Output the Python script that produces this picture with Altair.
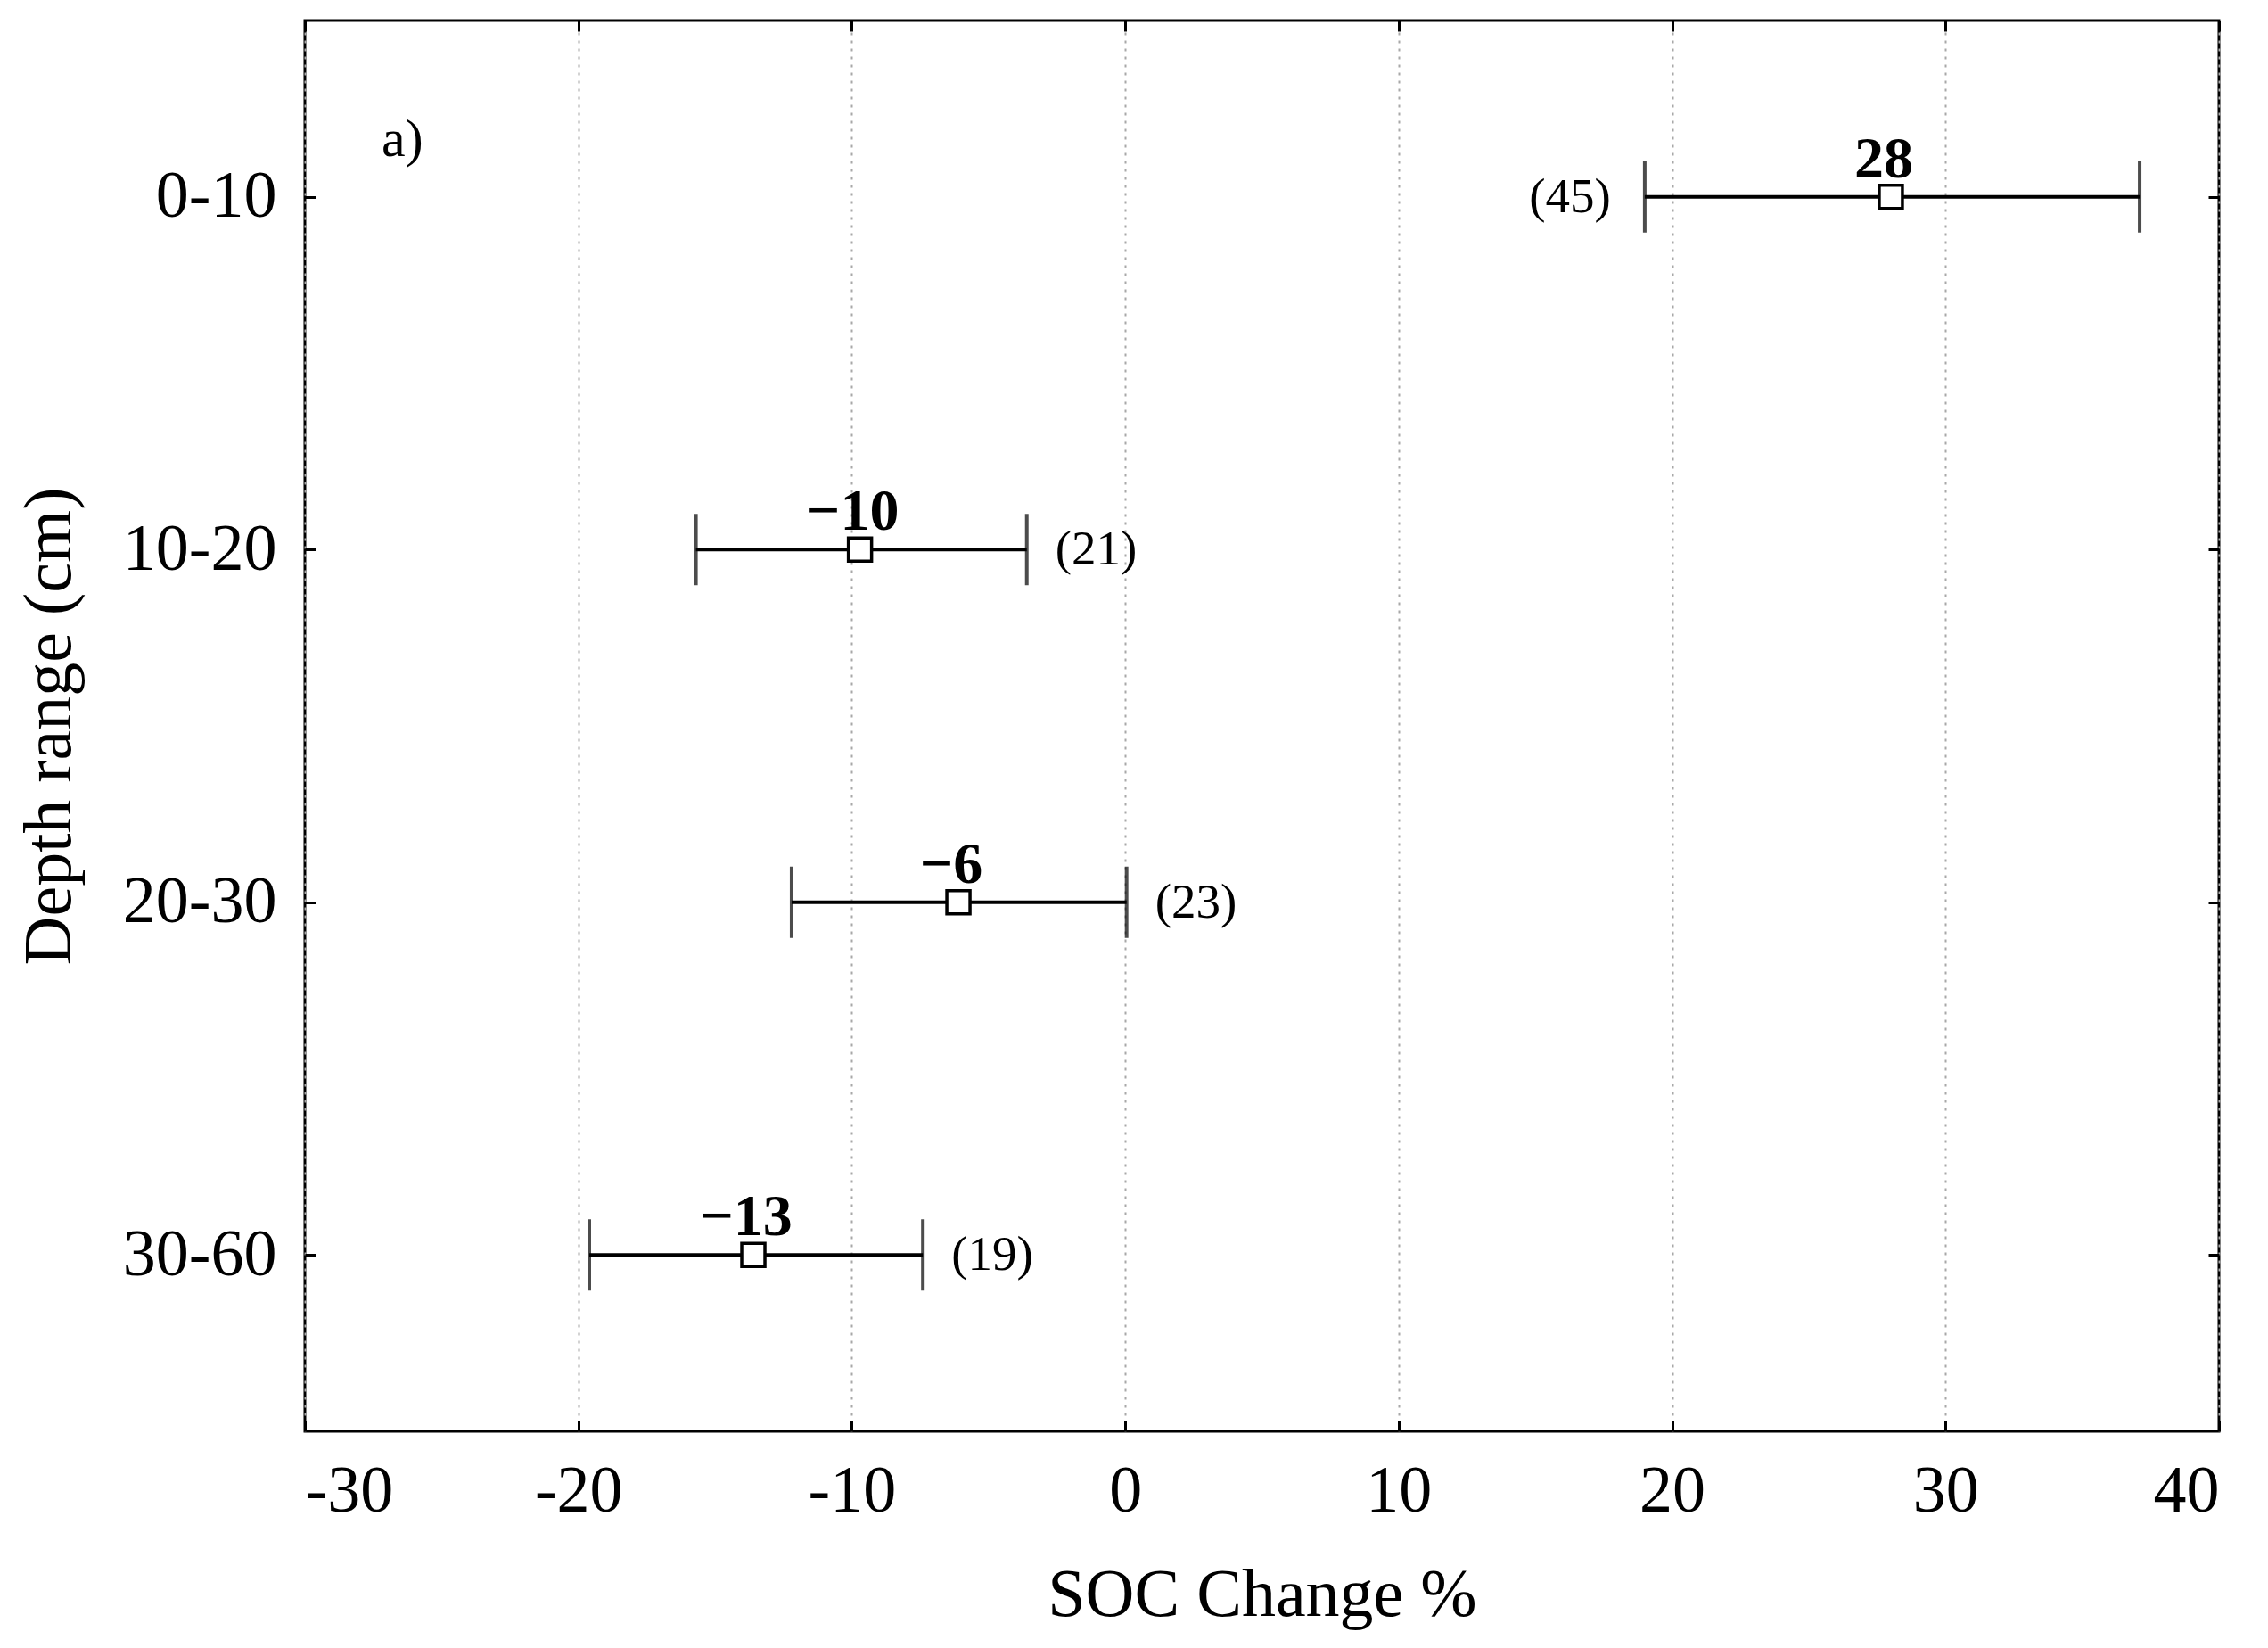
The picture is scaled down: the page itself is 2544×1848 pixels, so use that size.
import altair as alt
import pandas as pd

# ---- data ----
depth = ["0-10", "10-20", "20-30", "30-60"]
mean = [28.0, -9.7, -6.1, -13.6]
lo = [19.0, -15.7, -12.2, -19.6]
hi = [37.1, -3.6, 0.05, -7.4]
mean_label = ["28", "\u221210", "\u22126", "\u221213"]
n_label = ["(45)", "(21)", "(23)", "(19)"]
n_side = ["left", "right", "right", "right"]
x_ticks = [-30, -20, -10, 0, 10, 20, 30, 40]

df = pd.DataFrame(dict(depth=depth, mean=mean, lo=lo, hi=hi,
                       mean_label=mean_label, n_label=n_label, n_side=n_side))

FONT = "Liberation Serif"
W, H = 2147, 1582
T = 12

xscale = alt.Scale(domain=[-30, 40], nice=False, zero=False)
yscale = alt.Scale(type="point", domain=depth, padding=0.5)

x_bottom = alt.Axis(orient="bottom", values=x_ticks, labelExpr="'' + datum.value",
                    title="SOC Change %", offset=-T, tickSize=T, tickWidth=3,
                    tickColor="black", domain=False, labelPadding=31,
                    labelFont=FONT, labelFontSize=74, labelColor="black",
                    titleFont=FONT, titleFontSize=76, titleFontWeight="normal",
                    titleColor="black", titlePadding=42,
                    grid=True, gridColor="#a8a8a8", gridDash=[3, 6], gridWidth=2)
y_left = alt.Axis(orient="left", title="Depth range (cm)", offset=-T, tickSize=T,
                  tickWidth=3, tickColor="black", domain=False, labelPadding=32,
                  labelFont=FONT, labelFontSize=74, labelColor="black",
                  titleFont=FONT, titleFontSize=76, titleFontWeight="normal",
                  titleColor="black", titlePadding=60, grid=False)
x_top = alt.Axis(orient="top", values=x_ticks, offset=-T, tickSize=T, tickWidth=3,
                 tickColor="black", domain=False, labels=False, title=None, grid=False)
y_right = alt.Axis(orient="right", offset=-T, tickSize=T, tickWidth=3,
                   tickColor="black", domain=False, labels=False, title=None, grid=False)

base = alt.Chart(df)

rules = base.mark_rule(color="black", strokeWidth=4).encode(
    x=alt.X("lo:Q", scale=xscale, axis=x_bottom),
    x2="hi:Q",
    y=alt.Y("depth:N", scale=yscale, sort=depth, axis=y_left),
)
cap_lo = base.mark_tick(color="black", thickness=4, size=80).encode(
    x=alt.X("lo:Q", scale=xscale, axis=None),
    y=alt.Y("depth:N", scale=yscale, sort=depth, axis=None),
)
cap_hi = base.mark_tick(color="black", thickness=4, size=80).encode(
    x=alt.X("hi:Q", scale=xscale, axis=None),
    y=alt.Y("depth:N", scale=yscale, sort=depth, axis=None),
)
boxes = base.mark_square(size=676, fill="white", stroke="black", strokeWidth=3.5,
                         opacity=1).encode(
    x=alt.X("mean:Q", scale=xscale, axis=x_top),
    y=alt.Y("depth:N", scale=yscale, sort=depth, axis=y_right),
)
mean_text = base.mark_text(font=FONT, fontSize=66, fontWeight="bold",
                           baseline="alphabetic", align="center", dy=-22, dx=-8,
                           color="black").encode(
    x=alt.X("mean:Q", scale=xscale, axis=None),
    y=alt.Y("depth:N", scale=yscale, sort=depth, axis=None),
    text="mean_label:N",
)
n_left = base.transform_filter(alt.datum.n_side == "left").mark_text(
    font=FONT, fontSize=55, baseline="middle", align="right", dx=-38,
    color="black").encode(
    x=alt.X("lo:Q", scale=xscale, axis=None),
    y=alt.Y("depth:N", scale=yscale, sort=depth, axis=None),
    text="n_label:N",
)
n_right = base.transform_filter(alt.datum.n_side == "right").mark_text(
    font=FONT, fontSize=55, baseline="middle", align="left", dx=32,
    color="black").encode(
    x=alt.X("hi:Q", scale=xscale, axis=None),
    y=alt.Y("depth:N", scale=yscale, sort=depth, axis=None),
    text="n_label:N",
)

chart = alt.layer(rules, cap_lo, cap_hi, boxes, mean_text, n_left, n_right).resolve_axis(
    x="independent", y="independent"
).properties(
    width=W, height=H,
    padding={"left": 9, "top": 13, "right": 20, "bottom": 10},
    title=alt.TitleParams("a)", anchor="start", frame="group", font=FONT,
                          fontSize=60, fontWeight="normal", color="black",
                          baseline="alphabetic", offset=0, dx=86, dy=213),
).configure(
    background="white"
).configure_view(
    stroke="black", strokeWidth=3
)

chart.save("out.html", embed_options={"renderer": "svg", "actions": False})
